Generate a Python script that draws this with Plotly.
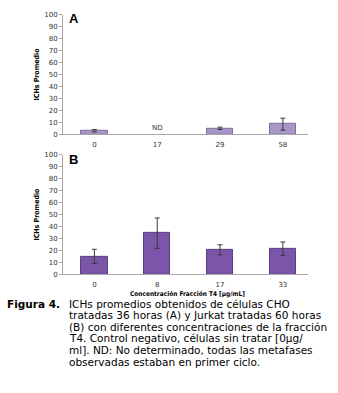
import plotly.graph_objects as go

# Panel A (CHO, 36 h)
cats_a = ["0", "17", "29", "58"]
vals_a = [3.0, None, 5.0, 8.5]
err_a = [1.0, 0, 1.0, 5.0]
nd_label = "ND"

# Panel B (Jurkat, 60 h)
cats_b = ["0", "8", "17", "33"]
vals_b = [15.0, 34.5, 20.5, 21.5]
err_b = [6.0, 12.7, 4.3, 5.6]

y_ticks = list(range(0, 101, 10))
x_title = "Concentración Fracción T4 [µg/mL]"
y_title = "ICHs Promedio"

caption_head = "Figura 4."
caption_lines = [
    "ICHs promedios obtenidos de células CHO",
    "tratadas 36 horas (A) y Jurkat tratadas 60 horas",
    "(B) con diferentes concentraciones de la fracción",
    "T4. Control negativo, células sin tratar [0µg/",
    "ml]. ND: No determinado, todas las metafases",
    "observadas estaban en primer ciclo.",
]

W, H = 338, 393
def py(p):
    return 1 - p / H
def px(p):
    return p / W

fig = go.Figure()
fig.add_trace(go.Bar(
    x=list(range(4)), y=vals_a, xaxis="x", yaxis="y", width=0.42,
    marker=dict(color="#a796c6", line=dict(color="#7c6ca0", width=1)),
    error_y=dict(type="data", array=err_a, color="#3a3a3a", thickness=1, width=2.5),
    showlegend=False))
fig.add_trace(go.Bar(
    x=list(range(4)), y=vals_b, xaxis="x2", yaxis="y2", width=0.42,
    marker=dict(color="#7a55a8", line=dict(color="#5b3f85", width=1)),
    error_y=dict(type="data", array=err_b, color="#3a3a3a", thickness=1, width=2.5),
    showlegend=False))

tickfont = dict(family="DejaVu Sans", size=7, color="#333333")
xax = dict(range=[-0.5, 3.4], tickmode="array", tickvals=list(range(4)),
           showline=True, linecolor="#a8a8a8", linewidth=1, ticks="",
           showgrid=False, zeroline=False, tickfont=tickfont, fixedrange=True,
           ticklabelstandoff=3, domain=[px(63), px(308)])
yax = dict(range=[0, 100], tickvals=y_ticks, showline=True, linecolor="#a8a8a8",
           linewidth=1, ticks="outside", ticklen=3, tickcolor="#a8a8a8",
           showgrid=False, zeroline=False, tickfont=tickfont, fixedrange=True)

fig.update_layout(
    width=W, height=H, margin=dict(l=0, r=0, t=0, b=0),
    paper_bgcolor="white", plot_bgcolor="white", bargap=0,
    xaxis=dict(xax, ticktext=cats_a, anchor="y"),
    yaxis=dict(yax, domain=[py(133), py(11)], anchor="x"),
    xaxis2=dict(xax, ticktext=cats_b, anchor="y2"),
    yaxis2=dict(yax, domain=[py(276), py(154)], anchor="x2"),
)

ann = []
ann.append(dict(x=1, y=5.5, xref="x", yref="y", text=nd_label, showarrow=False,
                font=dict(family="DejaVu Sans", size=7, color="#333333")))
for letter, yp in [("A", 15), ("B", 159)]:
    ann.append(dict(x=px(67), y=py(yp), xref="paper", yref="paper", text="<b>%s</b>" % letter,
                    showarrow=False, xanchor="left", yanchor="middle",
                    font=dict(family="Liberation Sans", size=13, color="black")))
for yp in [72, 215]:
    ann.append(dict(x=px(37), y=py(yp), xref="paper", yref="paper", text="<b>%s</b>" % y_title,
                    showarrow=False, textangle=-90, xanchor="center", yanchor="middle",
                    font=dict(family="DejaVu Sans Condensed, DejaVu Sans", size=7, color="black")))
ann.append(dict(x=px(188), y=py(296), xref="paper", yref="paper", text="<b>%s</b>" % x_title,
                showarrow=False, xanchor="center", yanchor="middle",
                font=dict(family="DejaVu Sans Condensed, DejaVu Sans", size=6.5, color="black")))

capfont = dict(family="DejaVu Sans", size=10.5, color="black")
ann.append(dict(x=px(5), y=py(306), xref="paper", yref="paper", text="<b>%s</b>" % caption_head,
                showarrow=False, xanchor="left", yanchor="middle",
                font=dict(family="DejaVu Sans", size=10.5, color="black")))
for i, line in enumerate(caption_lines):
    ann.append(dict(x=px(67), y=py(306 + i * 11.8), xref="paper", yref="paper", text=line,
                    showarrow=False, xanchor="left", yanchor="middle", font=capfont))

fig.update_layout(annotations=ann)
fig.write_html("out.html", config={"displayModeBar": False},
               post_script="document.body.style.margin='0px';")
